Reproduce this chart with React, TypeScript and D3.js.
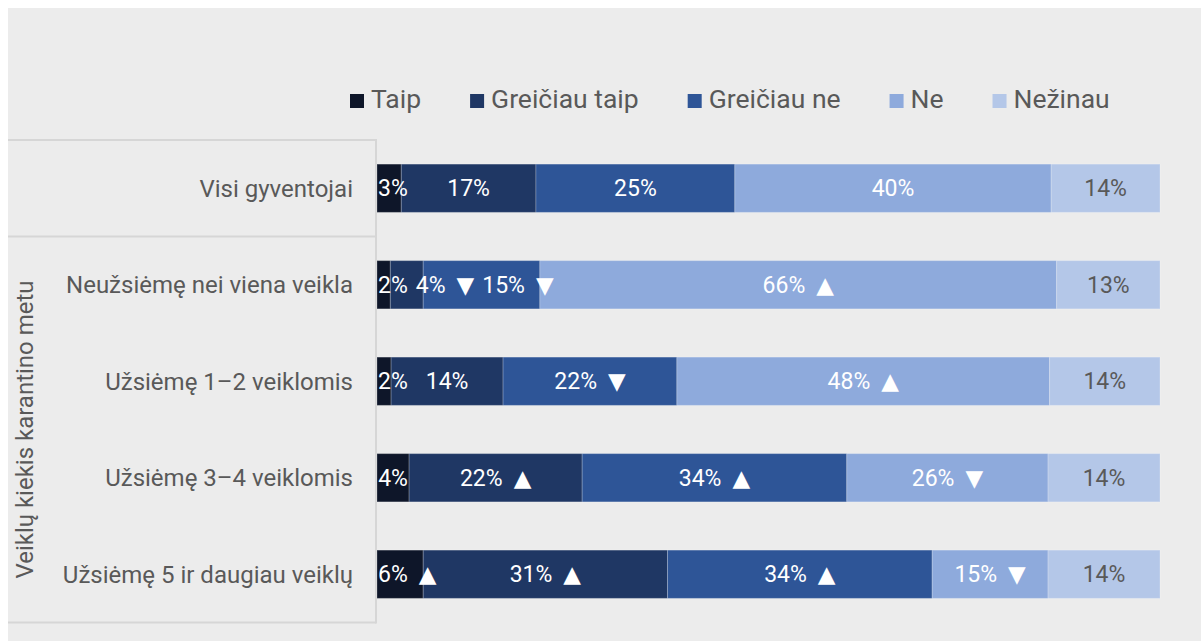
import React from "react";
import * as d3 from "d3";

const categories = [
  "Visi gyventojai",
  "Neužsiėmę nei viena veikla",
  "Užsiėmę 1–2 veiklomis",
  "Užsiėmę 3–4 veiklomis",
  "Užsiėmę 5 ir daugiau veiklų",
];
const seriesNames = ["Taip", "Greičiau taip", "Greičiau ne", "Ne", "Nežinau"];
const seriesColors = ["#0e1629", "#1f3764", "#2e5597", "#8eaadc", "#b4c7e8"];

const taip = [3.1, 1.7, 1.8, 4.1, 5.9];
const greiciauTaip = [17.2, 4.2, 14.3, 22.1, 31.2];
const greiciauNe = [25.4, 14.9, 22.2, 33.8, 33.8];
const ne = [40.4, 66.0, 47.6, 25.7, 14.8];
const nezinau = [13.9, 13.2, 14.1, 14.3, 14.3];

const taipSig = ["", "", "", "", "▲"];
const greiciauTaipSig = ["", "▼", "", "▲", "▲"];
const greiciauNeSig = ["", "▼", "▼", "▲", "▲"];
const neSig = ["", "▲", "▲", "▼", "▼"];
const nezinauSig = ["", "", "", "", ""];

const groupLabel = "Veiklų kiekis karantino metu";
const groupRows = [1, 4];

const seriesValues = [taip, greiciauTaip, greiciauNe, ne, nezinau];
const seriesSig = [taipSig, greiciauTaipSig, greiciauNeSig, neSig, nezinauSig];

const W = 1201;
const H = 641;
const FONT = "Roboto, 'Noto Sans', sans-serif";
const TRI_FONT = "'DejaVu Sans', sans-serif";
const TEXT = "#595959";
const LINE = "#d6d6d6";
const TRI_GAP = 11;

let ctx: CanvasRenderingContext2D | null = null;
function measure(text: string, size: number, family = "Roboto"): number {
  if (!ctx) ctx = document.createElement("canvas").getContext("2d");
  if (!ctx) return text.length * size * 0.55;
  ctx.font = `${size}px ${family}, sans-serif`;
  return ctx.measureText(text).width;
}

export default function App() {
  const x = d3.scaleLinear().domain([0, 100]).range([377, 1160]);
  const y = d3
    .scaleBand<string>()
    .domain(categories)
    .range([140, 622.5])
    .paddingInner(0.5)
    .paddingOuter(0.25);
  const step = y.step();

  const labelSize = 23;
  const legendSize = 26.5;

  const rows = categories.map((c, ri) => {
    const vals = seriesValues.map((s) => s[ri]);
    const ends = d3.cumsum(vals);
    return vals.map((v, si) => {
      const num = `${Math.round(v)}%`;
      const sig = seriesSig[si][ri];
      const w =
        measure(num, labelSize) +
        (sig ? TRI_GAP + measure(sig, labelSize, "'DejaVu Sans'") : 0);
      return { cat: c, si, v, x0: ends[si] - v, x1: ends[si], num, sig, w };
    });
  });

  // legend layout
  let lx = 350;
  const legendItems = seriesNames.map((n, i) => {
    const item = { n, i, x: lx };
    lx += 14 + 7 + measure(n, legendSize) + 49;
    return item;
  });

  return (
    <svg
      width={W}
      height={H}
      style={{ position: "absolute", left: 0, top: 0 }}
      fontFamily={FONT}
    >
      <rect x={8} y={8} width={W - 8} height={H - 8} fill="#ececec" />

      {/* legend */}
      {legendItems.map((it) => (
        <g key={it.n}>
          <rect x={it.x} y={94} width={14} height={14} fill={seriesColors[it.i]} />
          <text x={it.x + 21} y={108} fontSize={legendSize} fill={TEXT}>
            {it.n}
          </text>
        </g>
      ))}

      {/* table lines */}
      <line x1={8} x2={376} y1={140} y2={140} stroke={LINE} strokeWidth={2} />
      <line x1={8} x2={376} y1={140 + step} y2={140 + step} stroke={LINE} strokeWidth={2} />
      <line x1={8} x2={376} y1={622.5} y2={622.5} stroke={LINE} strokeWidth={2} />
      <line x1={376} x2={376} y1={139} y2={623.5} stroke={LINE} strokeWidth={2} />

      {/* group label */}
      <text
        transform={`translate(33, ${
          ((y(categories[groupRows[0]]) as number) +
            (y(categories[groupRows[1]]) as number) +
            y.bandwidth()) /
          2
        }) rotate(-90)`}
        textAnchor="middle"
        fontSize={24}
        fill={TEXT}
      >
        {groupLabel}
      </text>

      {/* category labels */}
      {categories.map((c) => (
        <text
          key={c}
          x={353}
          y={(y(c) as number) + y.bandwidth() / 2 + 8.5}
          textAnchor="end"
          fontSize={24}
          fill={TEXT}
        >
          {c}
        </text>
      ))}

      {/* bars */}
      {rows.map((segs, ri) => {
        const yy = y(categories[ri]) as number;
        let prevEnd = -Infinity;
        const labels = segs.map((s) => {
          const cx = (x(s.x0) + x(s.x1)) / 2;
          let lx0 = cx - s.w / 2;
          lx0 = Math.max(lx0, x(0) + 1, prevEnd + 8);
          prevEnd = lx0 + s.w;
          return { ...s, lx: lx0 };
        });
        return (
          <g key={ri}>
            {segs.map((s) => (
              <rect
                key={s.si}
                x={x(s.x0)}
                y={yy}
                width={x(s.x1) - x(s.x0)}
                height={y.bandwidth()}
                fill={seriesColors[s.si]}
                stroke="#ffffff"
                strokeOpacity={0.22}
                strokeWidth={1}
              />
            ))}
            {labels.map((s) => (
              <text
                key={"l" + s.si}
                x={s.lx}
                y={yy + y.bandwidth() / 2 + 8}
                fontSize={labelSize}
                fill={s.si === 4 ? TEXT : "#ffffff"}
              >
                {s.num}
                {s.sig ? (
                  <tspan fontFamily={TRI_FONT} dx={TRI_GAP}>
                    {s.sig}
                  </tspan>
                ) : null}
              </text>
            ))}
          </g>
        );
      })}
    </svg>
  );
}
